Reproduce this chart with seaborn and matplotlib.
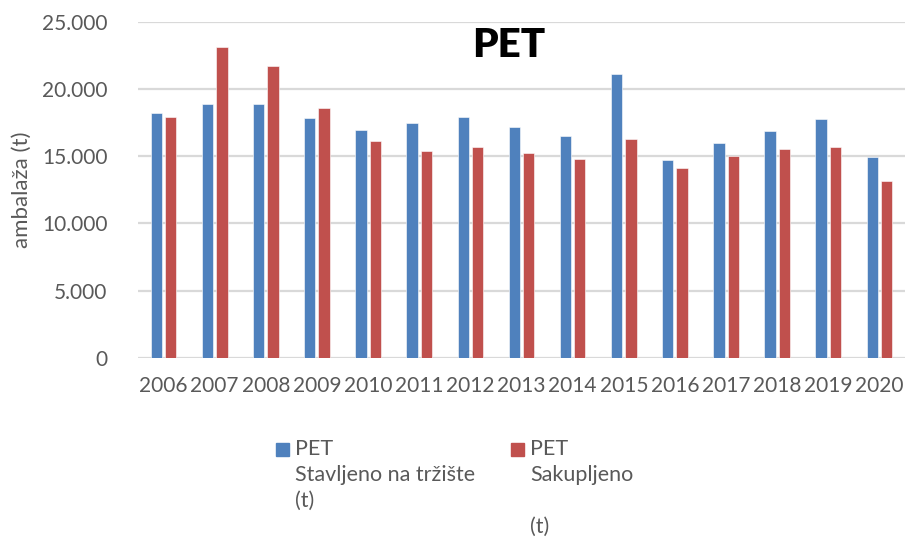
import seaborn as sns
import numpy as np
import pandas as pd
import matplotlib.pyplot as plt
from matplotlib.patches import Rectangle

years = ["2006", "2007", "2008", "2009", "2010", "2011", "2012", "2013",
         "2014", "2015", "2016", "2017", "2018", "2019", "2020"]

stavljeno = [18200, 18900, 18900, 17850, 16950, 17450, 17950, 17150,
             16500, 21100, 14750, 15950, 16900, 17800, 14950]

sakupljeno = [17950, 23150, 21700, 18600, 16100, 15400, 15650, 15250,
              14800, 16300, 14150, 15050, 15500, 15700, 13150]

label_a = "PET\nStavljeno na tržište\n(t)"
label_b = "PET\nSakupljeno\n\n(t)"
colors = ["#4F81BD", "#C0504D"]

df = pd.DataFrame({
    "year": years * 2,
    "value": stavljeno + sakupljeno,
    "series": [label_a] * len(years) + [label_b] * len(years),
})

sns.set_style("white")
plt.rcParams["font.family"] = ["Lato", "DejaVu Sans"]

grey = "#595959"

fig = plt.figure(figsize=(9.06, 5.42), dpi=100)
ax = fig.add_axes([138 / 906, 1 - 358 / 542, 767 / 906, (358 - 21.7) / 542])

sns.barplot(data=df, x="year", y="value", hue="series", palette=colors,
            saturation=1, width=0.56, gap=0.21,
            edgecolor="white", linewidth=0.4, ax=ax, legend=False)

ax.set_xlim(-0.5, 14.5)
ax.set_ylim(0, 25000)
ax.set_yticks(np.arange(0, 25001, 5000))
ax.set_yticklabels(["0", "5.000", "10.000", "15.000", "20.000", "25.000"])
ax.yaxis.grid(True, color="#D9D9D9", linewidth=1.6)
ax.set_axisbelow(True)
for s in ax.spines.values():
    s.set_visible(False)

ax.tick_params(axis="y", labelsize=15, colors=grey, length=0, pad=22)
ax.tick_params(axis="x", labelsize=15, colors=grey, length=0, pad=13)
ax.set_xlabel("")
ax.set_ylabel("ambalaža (t)", fontsize=16, color=grey, va="center")
ax.yaxis.set_label_coords((22 - 138) / 767, 0.5)

ax.text(0.483, 0.985, "PET", transform=ax.transAxes, ha="center", va="top",
        fontsize=29, fontweight="heavy", color="black")

# legend drawn below the plot
for x_sq, x_txt, col, lab in [(276, 295, colors[0], label_a),
                              (511, 530, colors[1], label_b)]:
    fig.patches.append(Rectangle((x_sq / 906, 1 - 456 / 542), 13 / 906, 13 / 542,
                                 transform=fig.transFigure, color=col))
    fig.text(x_txt / 906, 1 - 439 / 542, lab, ha="left", va="top",
             fontsize=15.5, color=grey, linespacing=1.38)

fig.savefig("out.png", dpi=100)
